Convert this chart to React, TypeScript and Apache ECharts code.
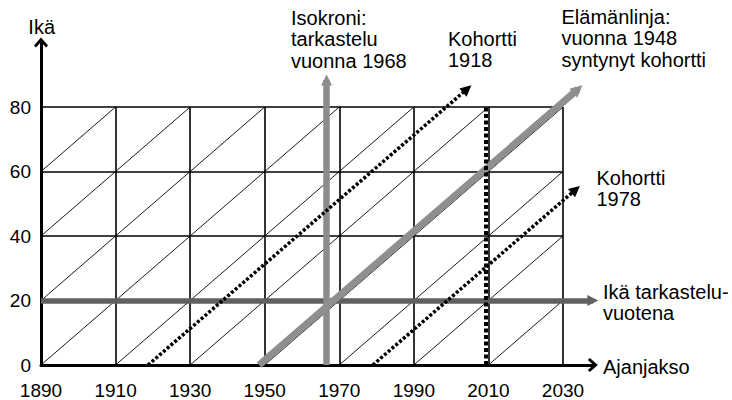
import React, { useEffect, useRef } from "react";
import * as echarts from "echarts";

// ---- data ----
const BASE_YEAR = 1890;
const gridYears = [1890, 1910, 1930, 1950, 1970, 1990, 2010, 2030];
const gridAges = [0, 20, 40, 60, 80];
const xTickYears = [1890, 1910, 1930, 1950, 1970, 1990, 2010, 2030];
const yTickAges = [0, 20, 40, 60, 80];

// dotted cohort lines: born (age 0) in start year, line runs to end point
const cohortStartYears = [1918.7, 1979];
const cohortEndYears = [2004.3, 2033.4];
const cohortEndAges = [85.6, 54.4];

// lifeline of the 1948 cohort
const lifelineYears = [1948.5, 2034];
const lifelineAges = [0, 85.5];

// isochrone (observation in 1968)
const isochroneYear = 1966.6;
const isochroneAges = [0, 88.4];

// age at observation year
const ageLineAge = 20;
const ageLineYears = [1890, 2038];

// dashed observation year
const observationYear = 2009.3;
const observationAges = [0, 80];

const FONT = "Liberation Sans, Arial, Helvetica, sans-serif";
const chevron = "path://M7,0L14,8L12,10L7,4.5L2,10L0,8Z";

const px = (y: number) => y - BASE_YEAR;

export default function App() {
  const ref = useRef<HTMLDivElement>(null);
  useEffect(() => {
    if (!ref.current) return;
    const chart = echarts.init(ref.current, null, { renderer: "svg" });

    const gMinX = px(gridYears[0]);
    const gMaxX = px(gridYears[gridYears.length - 1]);
    const gMinA = gridAges[0];
    const gMaxA = gridAges[gridAges.length - 1];

    const vLines = gridYears.map((y) => ({ coords: [[px(y), gMinA], [px(y), gMaxA]] }));
    const hLines = gridAges.map((a) => ({ coords: [[gMinX, a], [gMaxX, a]] }));
    const diag: any[] = [];
    for (let i = 0; i < gridYears.length - 1; i++) {
      for (let j = 0; j < gridAges.length - 1; j++) {
        diag.push({
          coords: [
            [px(gridYears[i]), gridAges[j]],
            [px(gridYears[i + 1]), gridAges[j + 1]],
          ],
        });
      }
    }

    const base = {
      type: "lines",
      coordinateSystem: "cartesian2d",
      clip: false,
      silent: true,
      polyline: false,
      effect: { show: false },
    };

    const option: any = {
      animation: false,
      grid: {
        left: 41,
        right: 732 - (41 + 148 * (522 / 140)),
        top: 42.5,
        bottom: 35,
        outerBoundsMode: "none",
        containLabel: false,
      },
      xAxis: {
        type: "value",
        min: 0,
        max: 148,
        interval: 20,
        axisLine: {
          show: true,
          onZero: false,
          lineStyle: { color: "#000", width: 3 },
          symbol: ["none", chevron],
          symbolSize: [14, 11],
        },
        axisTick: { show: false },
        splitLine: { show: false },
        axisLabel: {
          show: true,
          margin: 16,
          color: "#000",
          fontSize: 19,
          fontFamily: FONT,
          showMaxLabel: false,
          formatter: (v: number) =>
            xTickYears.indexOf(v + BASE_YEAR) >= 0 ? String(v + BASE_YEAR) : "",
        },
      },
      yAxis: {
        type: "value",
        min: 0,
        max: 100,
        interval: 20,
        axisLine: {
          show: true,
          onZero: false,
          lineStyle: { color: "#000", width: 3 },
          symbol: ["none", chevron],
          symbolSize: [14, 11],
        },
        axisTick: { show: false },
        splitLine: { show: false },
        axisLabel: {
          show: true,
          margin: 10,
          color: "#000",
          fontSize: 19,
          fontFamily: FONT,
          formatter: (v: number) => (yTickAges.indexOf(v) >= 0 ? String(v) : ""),
        },
      },
      series: [
        { ...base, name: "grid-v", data: vLines, lineStyle: { color: "#000", width: 1.6, opacity: 1 } },
        { ...base, name: "grid-h", data: hLines, lineStyle: { color: "#000", width: 1.6, opacity: 1 } },
        { ...base, name: "grid-d", data: diag, lineStyle: { color: "#000", width: 0.9, opacity: 1 } },
        {
          ...base,
          name: "age-line",
          symbol: ["none", "triangle"],
          symbolSize: 11,
          data: [{ coords: [[px(ageLineYears[0]), ageLineAge], [px(ageLineYears[1]), ageLineAge]] }],
          lineStyle: { color: "#606060", width: 5.5, opacity: 1 },
        },
        {
          ...base,
          name: "isochrone",
          symbol: ["none", "triangle"],
          symbolSize: 11,
          data: [{ coords: [[px(isochroneYear), isochroneAges[0]], [px(isochroneYear), isochroneAges[1]]] }],
          lineStyle: { color: "#8c8c8c", width: 6.5, opacity: 1 },
        },
        {
          ...base,
          name: "lifeline",
          symbol: ["none", "triangle"],
          symbolSize: 12,
          data: [{ coords: [[px(lifelineYears[0]), lifelineAges[0]], [px(lifelineYears[1]), lifelineAges[1]]] }],
          lineStyle: { color: "#8f8f8f", width: 7, opacity: 1 },
        },
        {
          ...base,
          name: "observation",
          data: [{ coords: [[px(observationYear), observationAges[0]], [px(observationYear), observationAges[1]]] }],
          lineStyle: { color: "#000", width: 4, type: [4, 2.5], cap: "butt", opacity: 1 },
        },
        {
          ...base,
          name: "cohorts",
          symbol: ["none", "triangle"],
          symbolSize: 11,
          data: cohortStartYears.map((s, i) => ({
            coords: [[px(s), 0], [px(cohortEndYears[i]), cohortEndAges[i]]],
          })),
          lineStyle: { color: "#000", width: 3.5, type: [3, 2], cap: "butt", opacity: 1 },
        },
      ],
      graphic: [
        { type: "text", x: 41.7, y: 27, style: { text: "Ikä", fill: "#000", fontSize: 20, fontFamily: FONT, textAlign: "center", textVerticalAlign: "middle" } },
        { type: "text", x: 291, y: 7, style: { text: "Isokroni:\ntarkastelu\nvuonna 1968", fill: "#000", fontSize: 20, lineHeight: 21.5, fontFamily: FONT, textAlign: "left", textVerticalAlign: "top" } },
        { type: "text", x: 448, y: 28, style: { text: "Kohortti\n1918", fill: "#000", fontSize: 20, lineHeight: 21.5, fontFamily: FONT, textAlign: "left", textVerticalAlign: "top" } },
        { type: "text", x: 561.5, y: 6, style: { text: "Elämänlinja:\nvuonna 1948\nsyntynyt kohortti", fill: "#000", fontSize: 20, lineHeight: 21.5, fontFamily: FONT, textAlign: "left", textVerticalAlign: "top" } },
        { type: "text", x: 596.5, y: 167.5, style: { text: "Kohortti\n1978", fill: "#000", fontSize: 20, lineHeight: 21, fontFamily: FONT, textAlign: "left", textVerticalAlign: "top" } },
        { type: "text", x: 603, y: 281, style: { text: "Ikä tarkastelu-\nvuotena", fill: "#000", fontSize: 20, lineHeight: 21, fontFamily: FONT, textAlign: "left", textVerticalAlign: "top" } },
        { type: "text", x: 603, y: 367, style: { text: "Ajanjakso", fill: "#000", fontSize: 20, fontFamily: FONT, textAlign: "left", textVerticalAlign: "middle" } },
      ],
    };

    chart.setOption(option);
    return () => chart.dispose();
  }, []);

  return (
    <div
      ref={ref}
      style={{ position: "absolute", left: 0, top: 0, width: 732, height: 400, background: "#fff" }}
    />
  );
}
